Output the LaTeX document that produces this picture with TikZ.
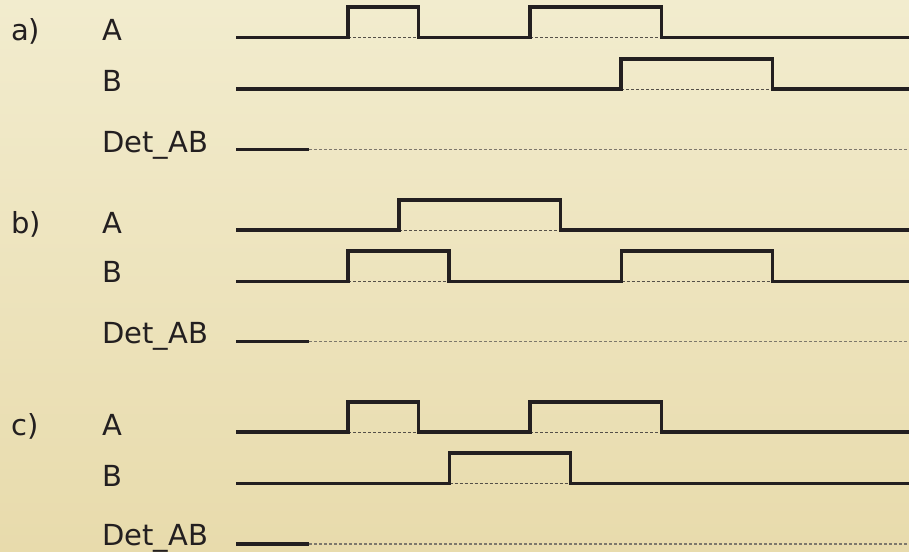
\documentclass[tikz,border=0pt]{standalone}
\usepackage{fontspec}
\setmainfont{DejaVu Sans}
\definecolor{ink}{RGB}{35,31,32}
\definecolor{dashc}{RGB}{85,80,72}
\definecolor{detc}{RGB}{125,120,108}
\definecolor{bgtop}{RGB}{242,236,206}
\definecolor{bgbot}{RGB}{232,219,172}
\begin{document}
\begin{tikzpicture}[x=1pt,y=-1pt,
  sig/.style={line width=3.4pt,draw=ink},
  gapline/.style={line width=0.9pt,draw=dashc,dash pattern=on 3pt off 2pt},
  detgap/.style={line width=1.2pt,draw=detc,dash pattern=on 3pt off 2pt},
  lbl/.style={anchor=base west,inner sep=0pt,font=\fontsize{29}{34}\selectfont,text=ink}]
\useasboundingbox (0,0) rectangle (909,551);
\shade[top color=bgtop,bottom color=bgbot] (0,0) rectangle (909,551);

% labels
\node[lbl] (ra) at (11,41) {a)};
\node[lbl] (raA) at (102,41) {A};
\node[lbl] (raB) at (102,91) {B};
\node[lbl] (raD) at (102,152) {Det\_AB};
\node[lbl] (rb) at (11,233) {b)};
\node[lbl] (rbA) at (102,233) {A};
\node[lbl] (rbB) at (102,282) {B};
\node[lbl] (rbD) at (102,343) {Det\_AB};
\node[lbl] (rc) at (11,435) {c)};
\node[lbl] (rcA) at (102,435) {A};
\node[lbl] (rcB) at (102,486) {B};
\node[lbl] (rcD) at (102,545) {Det\_AB};

% ---- a) ----
\draw[gapline] (348,37.5) -- (418.5,37.5) (530,37.5) -- (661.5,37.5);
\draw[sig] (236,37.5) -- (348,37.5) -- (348,7) -- (418.5,7) -- (418.5,37.5)
  -- (530,37.5) -- (530,7) -- (661.5,7) -- (661.5,37.5) -- (909,37.5);
\draw[gapline] (621,89) -- (772.5,89);
\draw[sig] (236,89) -- (621,89) -- (621,59) -- (772.5,59) -- (772.5,89) -- (909,89);
\draw[detgap] (309,149.5) -- (909,149.5);
\draw[sig] (236,149.5) -- (309,149.5);

% ---- b) ----
\draw[gapline] (399,230) -- (560.5,230);
\draw[sig] (236,230) -- (399,230) -- (399,200) -- (560.5,200) -- (560.5,230) -- (909,230);
\draw[gapline] (348,281.5) -- (449,281.5) (621.5,281.5) -- (772.5,281.5);
\draw[sig] (236,281.5) -- (348,281.5) -- (348,251) -- (449,251) -- (449,281.5)
  -- (621.5,281.5) -- (621.5,251) -- (772.5,251) -- (772.5,281.5) -- (909,281.5);
\draw[detgap] (309,341.5) -- (909,341.5);
\draw[sig] (236,341.5) -- (309,341.5);

% ---- c) ----
\draw[gapline] (348,432) -- (418.5,432) (530,432) -- (661.5,432);
\draw[sig] (236,432) -- (348,432) -- (348,402) -- (418.5,402) -- (418.5,432)
  -- (530,432) -- (530,402) -- (661.5,402) -- (661.5,432) -- (909,432);
\draw[gapline] (449.5,483.5) -- (570.5,483.5);
\draw[sig] (236,483.5) -- (449.5,483.5) -- (449.5,453) -- (570.5,453) -- (570.5,483.5) -- (909,483.5);
\draw[detgap] (309,544) -- (909,544);
\draw[sig] (236,544) -- (309,544);
\end{tikzpicture}
\end{document}
